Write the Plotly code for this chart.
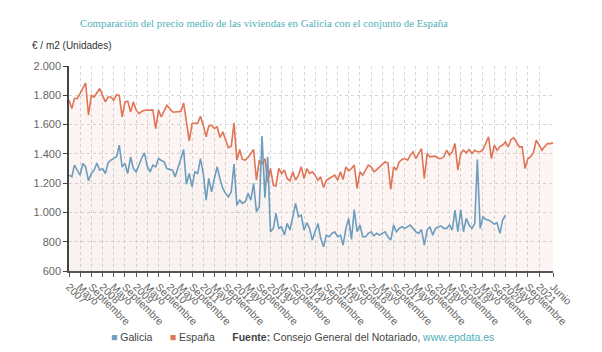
import pandas as pd
import plotly.graph_objects as go

# ---- data (€/m2), monthly from Jan 2007 ----
espana = [
    1766, 1709, 1778, 1778, 1812, 1850, 1884, 1664, 1800, 1788,
    1820, 1846, 1800, 1755, 1788, 1788, 1766, 1804, 1800, 1652,
    1755, 1760, 1686, 1755, 1698, 1675, 1690, 1698, 1698, 1698,
    1700, 1573, 1700, 1652, 1690, 1732, 1710, 1686, 1686, 1686,
    1690, 1748, 1620, 1489, 1607, 1607, 1610, 1657, 1596, 1516,
    1590, 1596, 1573, 1585, 1512, 1550, 1494, 1443, 1452, 1612,
    1357, 1430, 1362, 1357, 1375, 1407, 1430, 1221, 1357, 1334,
    1368, 1209, 1300, 1187, 1180, 1300, 1266, 1289, 1232, 1216,
    1278, 1221, 1255, 1312, 1232, 1300, 1266, 1277, 1255, 1220,
    1243, 1170, 1220, 1232, 1243, 1255, 1220, 1277, 1225, 1311,
    1284, 1300, 1323, 1164, 1277, 1255, 1289, 1323, 1311, 1277,
    1293, 1311, 1323, 1345, 1339, 1157, 1311, 1289, 1345, 1361,
    1368, 1357, 1391, 1414, 1368, 1402, 1436, 1232, 1402, 1380,
    1380, 1384, 1368, 1368, 1380, 1425, 1391, 1414, 1470, 1289,
    1402, 1425, 1407, 1430, 1402, 1425, 1414, 1414, 1430, 1470,
    1516, 1368, 1459, 1425, 1450, 1460, 1482, 1448, 1498, 1509,
    1482, 1448, 1448, 1300, 1368, 1380, 1410, 1493, 1459, 1425,
    1448, 1470, 1470, 1475,
]
galicia = [
    1255, 1243, 1323, 1289, 1255, 1334, 1311, 1216, 1266, 1289,
    1338, 1289, 1300, 1266, 1340, 1357, 1368, 1380, 1459, 1311,
    1334, 1266, 1380, 1300, 1277, 1334, 1370, 1407, 1316, 1277,
    1323, 1311, 1368, 1355, 1345, 1300, 1295, 1289, 1243, 1311,
    1370, 1430, 1193, 1266, 1175, 1277, 1266, 1368, 1266, 1084,
    1232, 1141, 1232, 1312, 1230, 1164, 1130, 1107, 1141, 1330,
    1050, 1084, 1062, 1073, 1130, 1084, 1198, 1005, 1039, 1521,
    1100, 1380, 868, 891, 993, 891, 902, 846, 925, 880,
    971, 1062, 971, 982, 880, 930, 891, 811, 870, 925,
    823, 766, 845, 834, 857, 868, 834, 845, 777, 891,
    959, 816, 1020, 868, 914, 834, 834, 857, 868, 840,
    857, 845, 857, 868, 834, 811, 914, 868, 891, 902,
    891, 902, 914, 891, 868, 857, 884, 777, 880, 902,
    845, 891, 902, 907, 891, 891, 914, 880, 1016, 868,
    1020, 868, 959, 914, 891, 925, 1361, 891, 970, 952,
    948, 936, 920, 930, 857, 948, 982,
]
start_month = "2007-01-01"
tick_years = list(range(2007, 2021))
tick_month_labels = ["Mayo", "Septiembre"]
last_year_labels = ["2021", "Junio"]
y_tick_vals = [600, 800, 1000, 1200, 1400, 1600, 1800, 2000]
y_tick_text = ["600", "800", "1.000", "1.200", "1.400", "1.600", "1.800", "2.000"]

dates_es = pd.date_range(start_month, periods=len(espana), freq="MS")
dates_ga = pd.date_range(start_month, periods=len(galicia), freq="MS")

tick_vals, tick_text = [], []
for yr in tick_years:
    tick_vals += [f"{yr}-01-01", f"{yr}-05-01", f"{yr}-09-01"]
    tick_text += [str(yr)] + tick_month_labels
tick_vals += ["2021-01-01", str(dates_es[-1].date())]
tick_text += last_year_labels

c_ga = "#6d9dbd"
c_es = "#e07455"
c_link = "#4fb0bb"

fig = go.Figure()
fig.add_trace(go.Scatter(x=dates_es, y=espana, mode="lines", name="España",
                         line=dict(color=c_es, width=1.6),
                         fill="tozeroy", fillcolor="rgba(224,116,85,0.07)"))
fig.add_trace(go.Scatter(x=dates_ga, y=galicia, mode="lines", name="Galicia",
                         line=dict(color=c_ga, width=1.6),
                         fill="tozeroy", fillcolor="rgba(109,157,189,0.035)"))

fig.update_layout(
    width=602, height=352,
    margin=dict(l=69, r=49, t=66, b=81),
    paper_bgcolor="white", plot_bgcolor="white",
    showlegend=False,
    font=dict(family="Liberation Sans, Arial, sans-serif", color="#666666", size=10),
)
fig.update_xaxes(
    range=[dates_es[0], dates_es[-1]],
    tickmode="array", tickvals=tick_vals, ticktext=tick_text,
    tickangle=45, tickfont=dict(size=10.5, color="#666666"),
    showgrid=True, gridcolor="#d6d6d6", griddash="dot", gridwidth=1,
    showline=True, linecolor="#555555", linewidth=1.5,
    ticks="outside", ticklen=4, tickcolor="#555555",
    zeroline=False,
)
fig.update_yaxes(
    range=[600, 2000],
    tickmode="array", tickvals=y_tick_vals, ticktext=y_tick_text,
    tickfont=dict(size=11, color="#666666"),
    showgrid=True, gridcolor="#d6d6d6", griddash="dot", gridwidth=1,
    showline=True, linecolor="#444444", linewidth=1.5,
    ticks="outside", ticklen=4, tickcolor="#444444",
    zeroline=False,
)

fig.add_annotation(
    text="Comparación del precio medio de las viviendas en Galicia con el conjunto de España",
    xref="paper", yref="paper", x=(264 - 69) / 484, y=1, yshift=43,
    xanchor="center", yanchor="middle", showarrow=False,
    font=dict(family="Liberation Serif, Times New Roman, serif", size=10.8, color=c_link),
)
fig.add_annotation(
    text="€ / m2 (Unidades)",
    xref="paper", yref="paper", x=(30 - 69) / 484, y=1, yshift=21,
    xanchor="left", yanchor="middle", showarrow=False,
    font=dict(size=10, color="#333333"),
)
fig.add_annotation(
    text=(f"<span style='color:{c_ga}'>■</span> Galicia      "
          f"<span style='color:{c_es}'>■</span> España      "
          "<b>Fuente:</b> Consejo General del Notariado, "
          f"<span style='color:{c_link}'>www.epdata.es</span>"),
    xref="paper", yref="paper", x=(302 - 69) / 484, y=0, yshift=-66,
    xanchor="center", yanchor="middle", showarrow=False,
    font=dict(size=10.5, color="#444444"),
)

fig.write_html("out.html")
